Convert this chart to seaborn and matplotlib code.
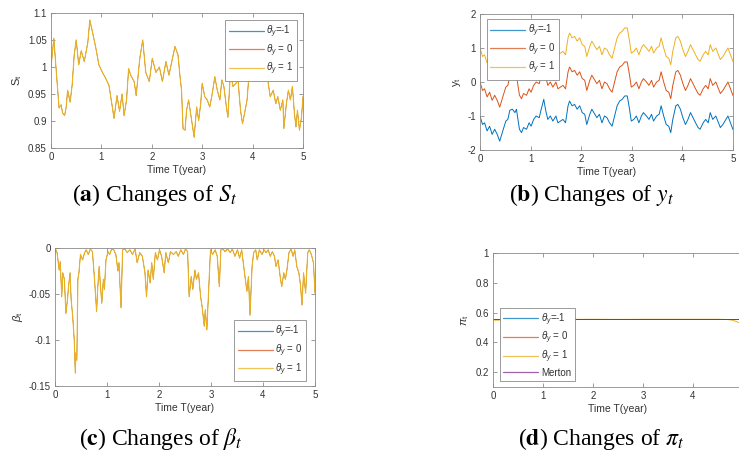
import matplotlib
matplotlib.use("Agg")
import matplotlib.pyplot as plt
import seaborn as sns
from matplotlib.lines import Line2D

# ---------------- data ----------------
s_time = [0, 0.056, 0.12, 0.16, 0.2, 0.23, 0.27, 0.3, 0.33, 0.38, 0.42, 0.46, 0.5, 0.55, 0.6, 0.66,
          0.73, 0.77, 0.82, 0.89, 0.95, 1.02, 1.08, 1.15, 1.21, 1.25, 1.31, 1.36, 1.41, 1.45, 1.5,
          1.54, 1.58, 1.65, 1.69, 1.76, 1.82, 1.88, 1.95, 2.01, 2.08, 2.15, 2.21, 2.28, 2.34, 2.41,
          2.46, 2.52, 2.56, 2.59, 2.62, 2.66, 2.69, 2.73, 2.77, 2.81, 2.84, 2.89, 2.93, 2.97, 3.0,
          3.05, 3.1, 3.15, 3.2, 3.25, 3.3, 3.35, 3.39, 3.43, 3.48, 3.51, 3.56, 3.61, 3.67, 3.71,
          3.76, 3.8, 3.84, 3.89, 3.94, 3.98, 4.01, 4.05, 4.1, 4.15, 4.2, 4.25, 4.27, 4.31, 4.35,
          4.41, 4.46, 4.5, 4.55, 4.6, 4.62, 4.67, 4.71, 4.75, 4.79, 4.83, 4.86, 4.89, 4.93, 4.97, 5.0]
s_values = [1.0, 1.053, 0.973, 0.924, 0.93, 0.915, 0.91, 0.925, 0.957, 0.935, 0.967, 1.022, 1.05,
            1.004, 1.03, 1.01, 1.045, 1.087, 1.066, 1.035, 1.004, 0.99, 0.98, 0.966, 0.93, 0.905,
            0.947, 0.918, 0.95, 0.91, 0.94, 0.997, 0.985, 0.973, 0.947, 1.015, 1.05, 0.99, 0.973,
            1.016, 0.99, 1.0, 0.973, 1.01, 0.985, 1.016, 1.038, 1.022, 0.982, 0.957, 0.886, 0.883,
            0.92, 0.939, 0.914, 0.889, 0.87, 0.926, 0.901, 0.932, 0.97, 0.945, 0.939, 0.926, 0.951,
            0.982, 0.957, 0.939, 0.976, 0.964, 0.926, 0.907, 0.991, 0.964, 0.97, 0.976, 0.92, 0.895,
            0.914, 0.939, 1.0, 1.019, 1.007, 1.015, 1.0, 1.02, 1.005, 1.01, 1.004, 0.97, 0.945,
            0.957, 0.932, 0.945, 0.92, 0.939, 0.886, 0.932, 0.957, 0.939, 0.964, 0.914, 0.889,
            0.92, 0.883, 0.907, 0.945]

y_time = [0, 0.05, 0.09, 0.14, 0.19, 0.24, 0.29, 0.34, 0.39, 0.42, 0.45, 0.51, 0.55, 0.59, 0.64,
          0.69, 0.72, 0.75, 0.78, 0.82, 0.86, 0.92, 0.97, 1.01, 1.06, 1.11, 1.17, 1.21, 1.26, 1.3,
          1.34, 1.39, 1.44, 1.5, 1.54, 1.59, 1.64, 1.69, 1.74, 1.77, 1.82, 1.87, 1.92, 1.97, 2.02,
          2.07, 2.11, 2.17, 2.21, 2.27, 2.31, 2.36, 2.41, 2.46, 2.51, 2.56, 2.61, 2.66, 2.71, 2.76,
          2.81, 2.86, 2.91, 2.95, 2.99, 3.04, 3.09, 3.14, 3.19, 3.23, 3.29, 3.34, 3.39, 3.43, 3.49,
          3.54, 3.58, 3.63, 3.68, 3.73, 3.77, 3.81, 3.87, 3.91, 3.96, 4.01, 4.06, 4.11, 4.16, 4.21,
          4.26, 4.31, 4.35, 4.41, 4.46, 4.51, 4.55, 4.6, 4.66, 4.7, 4.75, 4.8, 4.86, 4.9, 4.95, 5.0]
y_theta_m1 = [-1.0, -1.25, -1.2, -1.44, -1.3, -1.54, -1.39, -1.54, -1.74, -1.59, -1.44, -1.15, -1.1,
              -0.83, -0.8, -0.9, -0.8, -1.1, -1.39, -1.49, -1.34, -1.39, -1.2, -1.3, -1.1, -1.0,
              -1.05, -0.8, -0.51, -0.85, -1.1, -1.0, -1.15, -1.0, -1.2, -1.15, -1.1, -1.2, -0.7,
              -0.56, -0.7, -0.66, -0.8, -0.7, -0.9, -0.95, -1.25, -0.95, -0.8, -0.95, -1.05, -0.95,
              -1.2, -1.0, -1.05, -1.2, -1.3, -1.0, -0.7, -0.56, -0.51, -0.41, -0.41, -0.75, -1.15,
              -1.1, -1.0, -1.2, -1.0, -0.9, -1.0, -1.1, -0.95, -1.15, -1.0, -0.95, -0.7, -1.0, -1.25,
              -1.3, -1.49, -1.1, -0.7, -0.66, -0.8, -1.05, -1.25, -1.1, -0.9, -1.05, -1.2, -1.34,
              -1.39, -1.2, -1.1, -1.2, -0.9, -1.1, -1.0, -1.15, -1.34, -1.25, -1.1, -1.0, -1.2, -1.4]
y_theta_0 = [0.0, -0.25, -0.2, -0.44, -0.3, -0.54, -0.39, -0.54, -0.74, -0.59, -0.44, -0.15, -0.1,
             0.17, 0.2, 0.1, 0.2, -0.1, -0.39, -0.49, -0.34, -0.39, -0.2, -0.3, -0.1, 0.0, -0.05,
             0.2, 0.49, 0.15, -0.1, 0.0, -0.15, 0.0, -0.2, -0.15, -0.1, -0.2, 0.3, 0.44, 0.3, 0.34,
             0.2, 0.3, 0.1, 0.05, -0.25, 0.05, 0.2, 0.05, -0.05, 0.05, -0.2, 0.0, -0.05, -0.2, -0.3,
             0.0, 0.3, 0.44, 0.49, 0.59, 0.59, 0.25, -0.15, -0.1, 0.0, -0.2, 0.0, 0.1, 0.0, -0.1,
             0.05, -0.15, 0.0, 0.05, 0.3, 0.0, -0.25, -0.3, -0.49, -0.1, 0.3, 0.34, 0.2, -0.05,
             -0.25, -0.1, 0.1, -0.05, -0.2, -0.34, -0.39, -0.2, -0.1, -0.2, 0.1, -0.1, 0.0, -0.15,
             -0.34, -0.25, -0.1, 0.0, -0.2, -0.4]
y_theta_p1 = [1.0, 0.75, 0.8, 0.56, 0.7, 0.46, 0.61, 0.46, 0.26, 0.41, 0.56, 0.85, 0.9, 1.17, 1.2,
              1.1, 1.2, 0.9, 0.61, 0.51, 0.66, 0.61, 0.8, 0.7, 0.9, 1.0, 0.95, 1.2, 1.49, 1.15, 0.9,
              1.0, 0.85, 1.0, 0.8, 0.85, 0.9, 0.8, 1.3, 1.44, 1.3, 1.34, 1.2, 1.3, 1.1, 1.05, 0.75,
              1.05, 1.2, 1.05, 0.95, 1.05, 0.8, 1.0, 0.95, 0.8, 0.7, 1.0, 1.3, 1.44, 1.49, 1.59,
              1.59, 1.25, 0.85, 0.9, 1.0, 0.8, 1.0, 1.1, 1.0, 0.9, 1.05, 0.85, 1.0, 1.05, 1.3, 1.0,
              0.75, 0.7, 0.51, 0.9, 1.3, 1.34, 1.2, 0.95, 0.75, 0.9, 1.1, 0.95, 0.8, 0.66, 0.61, 0.8,
              0.9, 0.8, 1.1, 0.9, 1.0, 0.85, 0.66, 0.75, 0.9, 1.0, 0.8, 0.6]

beta_time = [0, 0.04, 0.08, 0.1, 0.13, 0.15, 0.18, 0.21, 0.24, 0.26, 0.29, 0.31, 0.34, 0.37, 0.39,
             0.4, 0.42, 0.44, 0.46, 0.49, 0.53, 0.57, 0.6, 0.64, 0.68, 0.72, 0.76, 0.8, 0.82, 0.85,
             0.87, 0.9, 0.93, 0.95, 0.98, 1.02, 1.05, 1.09, 1.13, 1.17, 1.21, 1.23, 1.27, 1.3, 1.34,
             1.39, 1.44, 1.49, 1.54, 1.58, 1.63, 1.68, 1.73, 1.76, 1.79, 1.83, 1.86, 1.89, 1.93,
             1.97, 2.01, 2.05, 2.1, 2.13, 2.18, 2.22, 2.28, 2.33, 2.37, 2.42, 2.47, 2.51, 2.55,
             2.58, 2.62, 2.65, 2.69, 2.72, 2.76, 2.8, 2.83, 2.87, 2.89, 2.92, 2.94, 2.97, 2.99,
             3.03, 3.08, 3.12, 3.16, 3.19, 3.23, 3.27, 3.32, 3.37, 3.41, 3.46, 3.51, 3.55, 3.59,
             3.62, 3.66, 3.69, 3.72, 3.75, 3.79, 3.82, 3.86, 3.89, 3.93, 3.98, 4.02, 4.06, 4.1,
             4.14, 4.18, 4.22, 4.25, 4.29, 4.33, 4.36, 4.4, 4.43, 4.46, 4.5, 4.54, 4.58, 4.61,
             4.65, 4.69, 4.72, 4.75, 4.78, 4.82, 4.86, 4.89, 4.93, 4.97, 5.0]
beta_values = [0, -0.005, -0.024, -0.015, -0.053, -0.027, -0.034, -0.071, -0.056, -0.042, -0.027,
               -0.056, -0.074, -0.1, -0.136, -0.114, -0.122, -0.034, -0.027, -0.007, -0.013, -0.005,
               -0.002, -0.007, -0.001, -0.004, -0.034, -0.069, -0.045, -0.02, -0.038, -0.06, -0.034,
               -0.045, -0.013, -0.004, -0.007, -0.001, -0.002, -0.007, -0.025, -0.016, -0.065,
               -0.002, -0.001, -0.005, -0.002, -0.007, -0.001, -0.016, -0.005, -0.009, -0.027,
               -0.053, -0.024, -0.038, -0.016, -0.034, -0.005, -0.013, -0.002, -0.009, -0.027,
               -0.005, -0.016, -0.004, -0.007, -0.004, -0.009, -0.002, -0.007, -0.001, -0.004,
               -0.053, -0.031, -0.045, -0.024, -0.034, -0.027, -0.053, -0.064, -0.085, -0.067,
               -0.089, -0.064, -0.024, -0.002, -0.007, -0.002, -0.009, -0.042, -0.002, -0.001,
               -0.004, -0.001, -0.005, -0.001, -0.009, -0.002, -0.011, -0.002, -0.016, -0.034,
               -0.047, -0.031, -0.073, -0.02, -0.005, -0.002, -0.013, -0.002, -0.007, -0.002,
               -0.005, -0.002, -0.009, -0.004, -0.009, -0.02, -0.013, -0.031, -0.042, -0.027,
               -0.034, -0.024, -0.005, -0.001, -0.009, -0.002, -0.02, -0.027, -0.04, -0.062,
               -0.027, -0.049, -0.005, -0.002, -0.007, -0.016, -0.049]

pi_time = [0, 0.5, 1, 1.5, 2, 2.5, 3, 3.5, 4, 4.5, 4.7, 4.8, 4.9, 5.0]
pi_theta_m1 = [0.557] * 14
pi_theta_0 = [0.557] * 14
pi_theta_p1 = [0.549, 0.549, 0.552, 0.554, 0.555, 0.554, 0.555, 0.555, 0.555, 0.555, 0.553,
               0.548, 0.535, 0.52]
pi_merton = [0.557] * 14

theta_labels = [r"$\theta_y$=-1", r"$\theta_y$ = 0", r"$\theta_y$ = 1"]
merton_label = "Merton"
x_ticks = [0, 1, 2, 3, 4, 5]
x_tick_labels = ["0", "1", "2", "3", "4", "5"]
pi_x_tick_labels = ["0", "1", "2", "3", "4", ""]
s_ticks = [0.85, 0.9, 0.95, 1.0, 1.05, 1.1]
s_tick_labels = ["0.85", "0.9", "0.95", "1", "1.05", "1.1"]
y_ticks = [-2, -1, 0, 1, 2]
y_tick_labels = ["-2", "-1", "0", "1", "2"]
beta_ticks = [-0.15, -0.1, -0.05, 0]
beta_tick_labels = ["-0.15", "-0.1", "-0.05", "0"]
pi_ticks = [0.2, 0.4, 0.6, 0.8, 1.0]
pi_tick_labels = ["0.2", "0.4", "0.6", "0.8", "1"]
captions = [r"($\mathbf{a}$) Changes of $S_t$", r"($\mathbf{b}$) Changes of $y_t$",
            r"($\mathbf{c}$) Changes of $\beta_t$", r"($\mathbf{d}$) Changes of $\pi_t$"]

# ---------------- styling ----------------
sns.set_theme(style="ticks")
plt.rcParams.update({
    "font.family": ["Liberation Sans", "DejaVu Sans"],
    "mathtext.fontset": "custom",
    "mathtext.rm": "Liberation Sans",
    "mathtext.it": "Liberation Sans:italic",
    "mathtext.bf": "Liberation Sans:bold",
})

C_BLUE, C_ORANGE, C_YELLOW, C_PURPLE = "#0072BD", "#D95319", "#EDB120", "#7E2F8E"
theta_colors = [C_BLUE, C_ORANGE, C_YELLOW]
W, H = 739, 457

fig = plt.figure(figsize=(W / 100, H / 100), dpi=100)


def px_axes(l, t, r, b):
    return fig.add_axes([l / W, 1 - b / H, (r - l) / W, (b - t) / H])


def style(ax, xlim, ylim, yt, ytl, ylabel, xtl=x_tick_labels):
    ax.set_xlim(*xlim)
    ax.set_ylim(*ylim)
    ax.set_xticks(x_ticks, xtl)
    ax.set_yticks(yt, ytl)
    for s in ax.spines.values():
        s.set_color("#8a8a8a")
        s.set_linewidth(0.6)
        s.set_visible(True)
    ax.tick_params(direction="in", length=3, width=0.6, color="#8a8a8a", labelcolor="#333333",
                   labelsize=7, top=True, right=True, pad=3)
    ax.set_xlabel("Time T(year)", fontsize=7.5, color="#333333", labelpad=2)
    ax.set_ylabel(ylabel, fontsize=8, color="#333333", labelpad=3)
    ax.grid(False)


def add_legend(ax, colors, labels, loc, xy):
    handles = [Line2D([0], [0], color=c, lw=0.9, alpha=0.75) for c in colors]
    leg = ax.legend(handles, labels, loc=loc, bbox_to_anchor=(xy[0] / W, 1 - xy[1] / H),
                    bbox_transform=fig.transFigure, borderaxespad=0, fontsize=7,
                    handlelength=3.6, handletextpad=0.3, labelspacing=0.25, borderpad=0.35,
                    fancybox=False, framealpha=1, edgecolor="#8a8a8a")
    leg.get_frame().set_linewidth(0.6)
    for t in leg.get_texts():
        t.set_color("#333333")


# (a) S_t -- the three paths coincide, yellow drawn last on top
ax = px_axes(51, 13, 303, 148)
for c, lw in zip(theta_colors, [0.25, 0.25, 0.8]):
    sns.lineplot(x=s_time, y=s_values, ax=ax, color=c, linewidth=lw, estimator=None, sort=False)
style(ax, (0, 5), (0.85, 1.1), s_ticks, s_tick_labels, r"S$_{\rm t}$")
add_legend(ax, theta_colors, theta_labels, "upper right", (297, 20))

# (b) y_t
ax = px_axes(480, 14, 733, 150)
for vals, c in zip([y_theta_m1, y_theta_0, y_theta_p1], theta_colors):
    sns.lineplot(x=y_time, y=vals, ax=ax, color=c, linewidth=0.7, estimator=None, sort=False)
style(ax, (0, 5), (-2, 2), y_ticks, y_tick_labels, r"y$_{\rm t}$")
add_legend(ax, theta_colors, theta_labels, "upper left", (487, 19))

# (c) beta_t
ax = px_axes(55, 248, 315, 386)
for c, lw in zip(theta_colors, [0.25, 0.25, 0.8]):
    sns.lineplot(x=beta_time, y=beta_values, ax=ax, color=c, linewidth=lw, estimator=None, sort=False)
style(ax, (0, 5), (-0.15, 0), beta_ticks, beta_tick_labels, r"$\beta_{\rm t}$")
add_legend(ax, theta_colors, theta_labels, "lower right", (306, 381))

# (d) pi_t
ax = px_axes(493, 253, 743, 387)
for vals, c in zip([pi_theta_m1, pi_theta_0, pi_theta_p1, pi_merton],
                   theta_colors + [C_PURPLE]):
    sns.lineplot(x=pi_time, y=vals, ax=ax, color=c, linewidth=0.7, estimator=None, sort=False)
style(ax, (0, 5), (0.1, 1.0), pi_ticks, pi_tick_labels, r"$\pi_{\rm t}$", pi_x_tick_labels)
add_legend(ax, theta_colors + [C_PURPLE], theta_labels + [merton_label], "lower left", (500, 381))

# captions
for s, (cx, cy) in zip(captions, [(155, 195), (592, 195), (161, 439), (601, 439)]):
    fig.text(cx / W, 1 - cy / H, s, ha="center", va="center", fontsize=17,
             family="Liberation Serif", math_fontfamily="stix", color="black")

fig.savefig("out.png", dpi=100)
